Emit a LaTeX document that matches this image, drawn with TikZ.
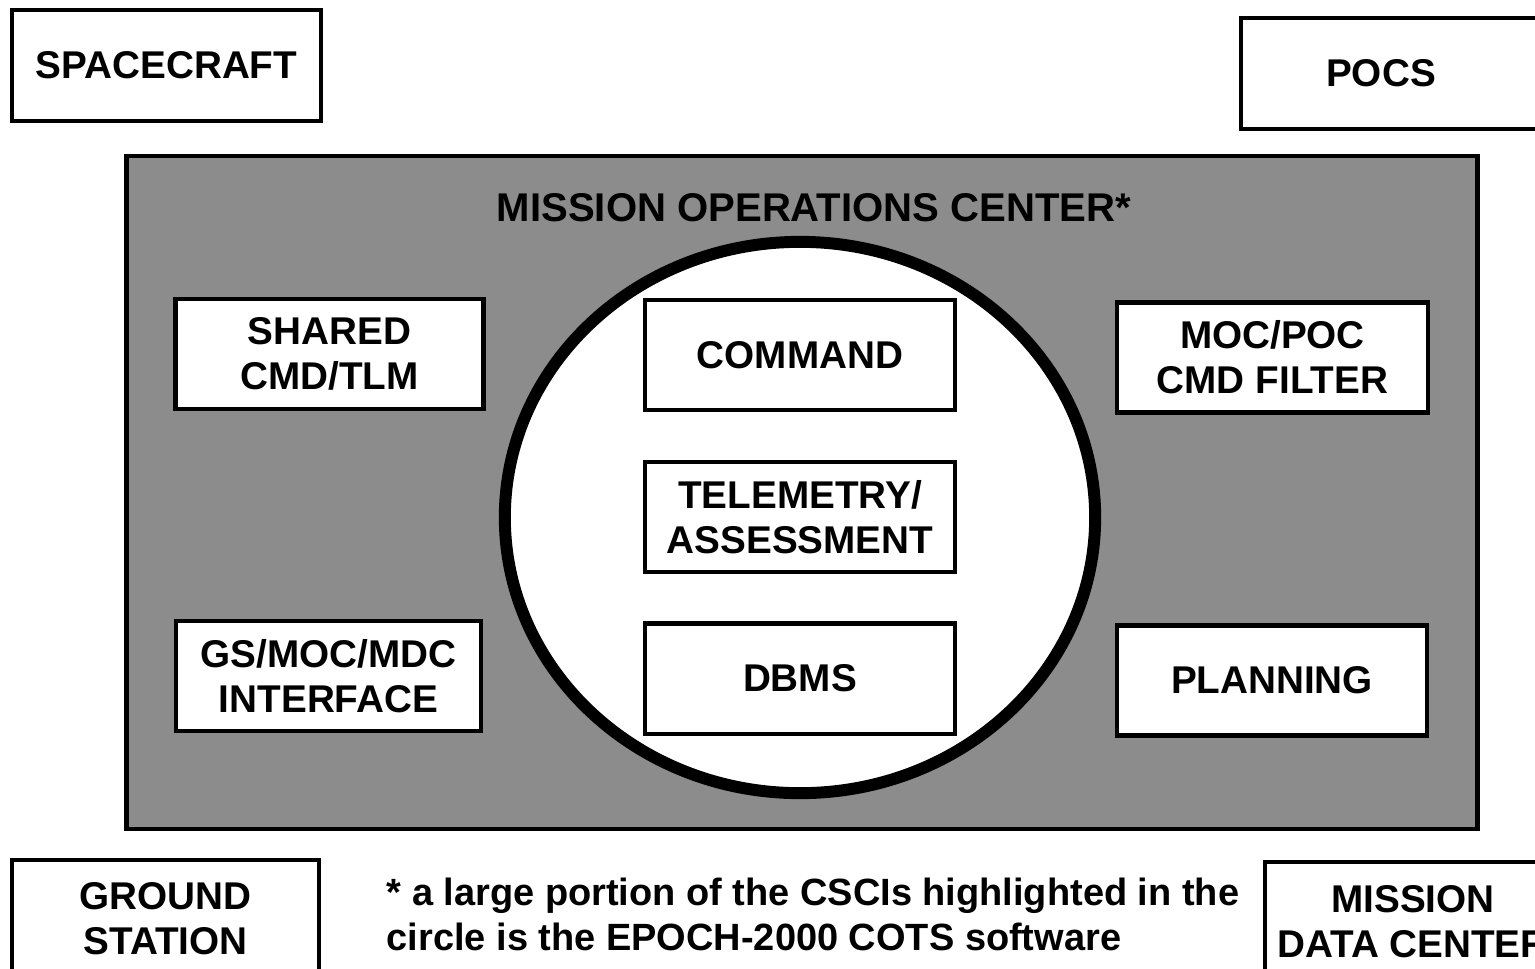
\documentclass[tikz,border=0pt]{standalone}
\usepackage{fontspec}
\setmainfont{Liberation Sans}
\usepackage{xcolor}
\usetikzlibrary{shapes.geometric, positioning}

\begin{document}
\begin{tikzpicture}[
  x=0.01cm, y=-0.01cm,
  outbox/.style={rectangle, draw=black, fill=white, line width=1.3pt, minimum width=3.09cm, minimum height=1.11cm, align=center, font=\fontsize{11}{12.8}\selectfont\bfseries},
  inbox/.style={rectangle, draw=black, fill=white, line width=1.2pt, minimum width=3.08cm, minimum height=1.10cm, align=center, font=\fontsize{11}{12.8}\selectfont\bfseries},
  moc/.style={rectangle, draw=black, fill=black!45, line width=1.3pt, minimum width=13.5cm, minimum height=6.73cm},
  ring/.style={ellipse, draw=black, fill=white, line width=3.4pt, minimum width=5.90cm, minimum height=5.51cm, inner sep=0pt},
  note/.style={align=left, inner sep=0pt, font=\fontsize{10.8}{12.8}\selectfont\bfseries}
]
\useasboundingbox (0,0) rectangle (1535,969);
\clip (0,0) rectangle (1535,969);

% outside systems
\node (sc) [outbox] at (166.5,65.5) {SPACECRAFT};
\node (pocs) [outbox, minimum width=3.2cm, label={[font=\fontsize{11}{12.8}\selectfont\bfseries, xshift=-0.2cm]center:POCS}] at (1401,73.5) {};
\node (gs) [outbox, minimum width=3.07cm, minimum height=1.18cm] at (165.5,919) {GROUND\\STATION};
\node (mdc) [outbox, minimum width=2.96cm, minimum height=1.20cm] at (1413,922) {MISSION\\DATA CENTER};

% mission operations center
\node (center) [moc] at (802,492.5) {};
\node (title) [font=\fontsize{11.4}{12.8}\selectfont\bfseries] at (814,208) {MISSION OPERATIONS CENTER*};
\node (epoch) [ring] at (800,517.5) {};

\node (shared) [inbox] at (329.5,354) {SHARED\\CMD/TLM};
\node (gsif) [inbox, minimum width=3.05cm] at (328.5,676) {GS/MOC/MDC\\INTERFACE};
\node (filter) [inbox, minimum width=3.11cm] at (1272.5,357.5) {MOC/POC\\CMD FILTER};
\node (plan) [inbox, minimum width=3.10cm] at (1272,680.5) {PLANNING};

\node (cmd) [inbox, minimum width=3.10cm] at (800,355) {COMMAND};
\node (tlm) [inbox, minimum width=3.10cm, below=0.48cm of cmd] {TELEMETRY/\\ASSESSMENT};
\node (dbms) [inbox, minimum width=3.10cm, below=0.47cm of tlm] {DBMS};

% footnote
\node (fn) [note, anchor=north west] at (386,877) {* a large portion of the CSCIs highlighted in the\\circle is the EPOCH-2000 COTS software};
\end{tikzpicture}
\end{document}
